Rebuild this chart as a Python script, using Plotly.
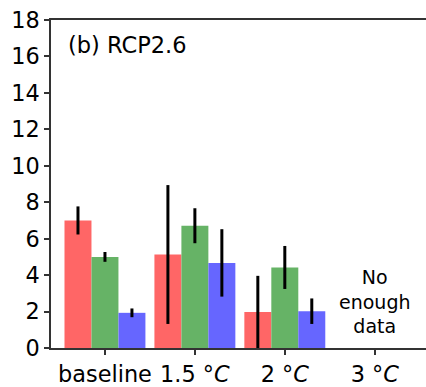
import plotly.graph_objects as go

categories = ["baseline", "1.5 °<i>C</i>", "2 °<i>C</i>", "3 °<i>C</i>"]
data_cats = ["baseline", "1.5 °<i>C</i>", "2 °<i>C</i>"]
red_vals = [7.0, 5.13, 1.98]
red_err = [0.77, 3.81, 1.98]
green_vals = [5.0, 6.71, 4.42]
green_err = [0.27, 0.96, 1.18]
blue_vals = [1.93, 4.67, 2.02]
blue_err = [0.24, 1.85, 0.70]
y_ticks = [0, 2, 4, 6, 8, 10, 12, 14, 16, 18]

colors = ["rgb(255,102,102)", "rgb(102,179,102)", "rgb(102,102,255)"]

fig = go.Figure()
for vals, errs, c in [(red_vals, red_err, colors[0]),
                      (green_vals, green_err, colors[1]),
                      (blue_vals, blue_err, colors[2])]:
    fig.add_trace(go.Bar(
        x=data_cats, y=vals, marker=dict(color=c, line=dict(width=0)),
        error_y=dict(type="data", array=errs, visible=True,
                     color="black", thickness=3, width=0),
        showlegend=False))

fig.add_annotation(x="3 °<i>C</i>", y=2.55, xref="x", yref="y",
                   text="No<br>enough<br>data", showarrow=False,
                   font=dict(size=19, color="black", family="DejaVu Sans"))
fig.add_annotation(x=0.04, y=0.924, xref="paper", yref="paper",
                   xanchor="left", yanchor="middle",
                   text="(b) RCP2.6", showarrow=False,
                   font=dict(size=22.5, color="black", family="DejaVu Sans"))

fig.update_layout(
    width=426, height=387,
    margin=dict(l=51, r=0, t=20, b=37),
    plot_bgcolor="white", paper_bgcolor="white",
    barmode="group", bargap=0.1, bargroupgap=0,
    font=dict(family="DejaVu Sans", size=22.4, color="black"),
    xaxis=dict(type="category", categoryorder="array", categoryarray=categories,
               tickvals=categories, ticktext=categories,
               range=[-0.6, 3.57], showline=True, linecolor="#333", linewidth=1.5,
               mirror=True, ticks="outside", ticklen=5, tickwidth=1.5, tickcolor="#333",
               showgrid=False, zeroline=False),
    yaxis=dict(range=[0, 18], tickvals=y_ticks, showline=True, linecolor="#333",
               linewidth=1.5, ticks="outside", ticklen=5, tickwidth=1.5,
               tickcolor="#333", showgrid=False, zeroline=False),
)

fig.write_html("out.html")
